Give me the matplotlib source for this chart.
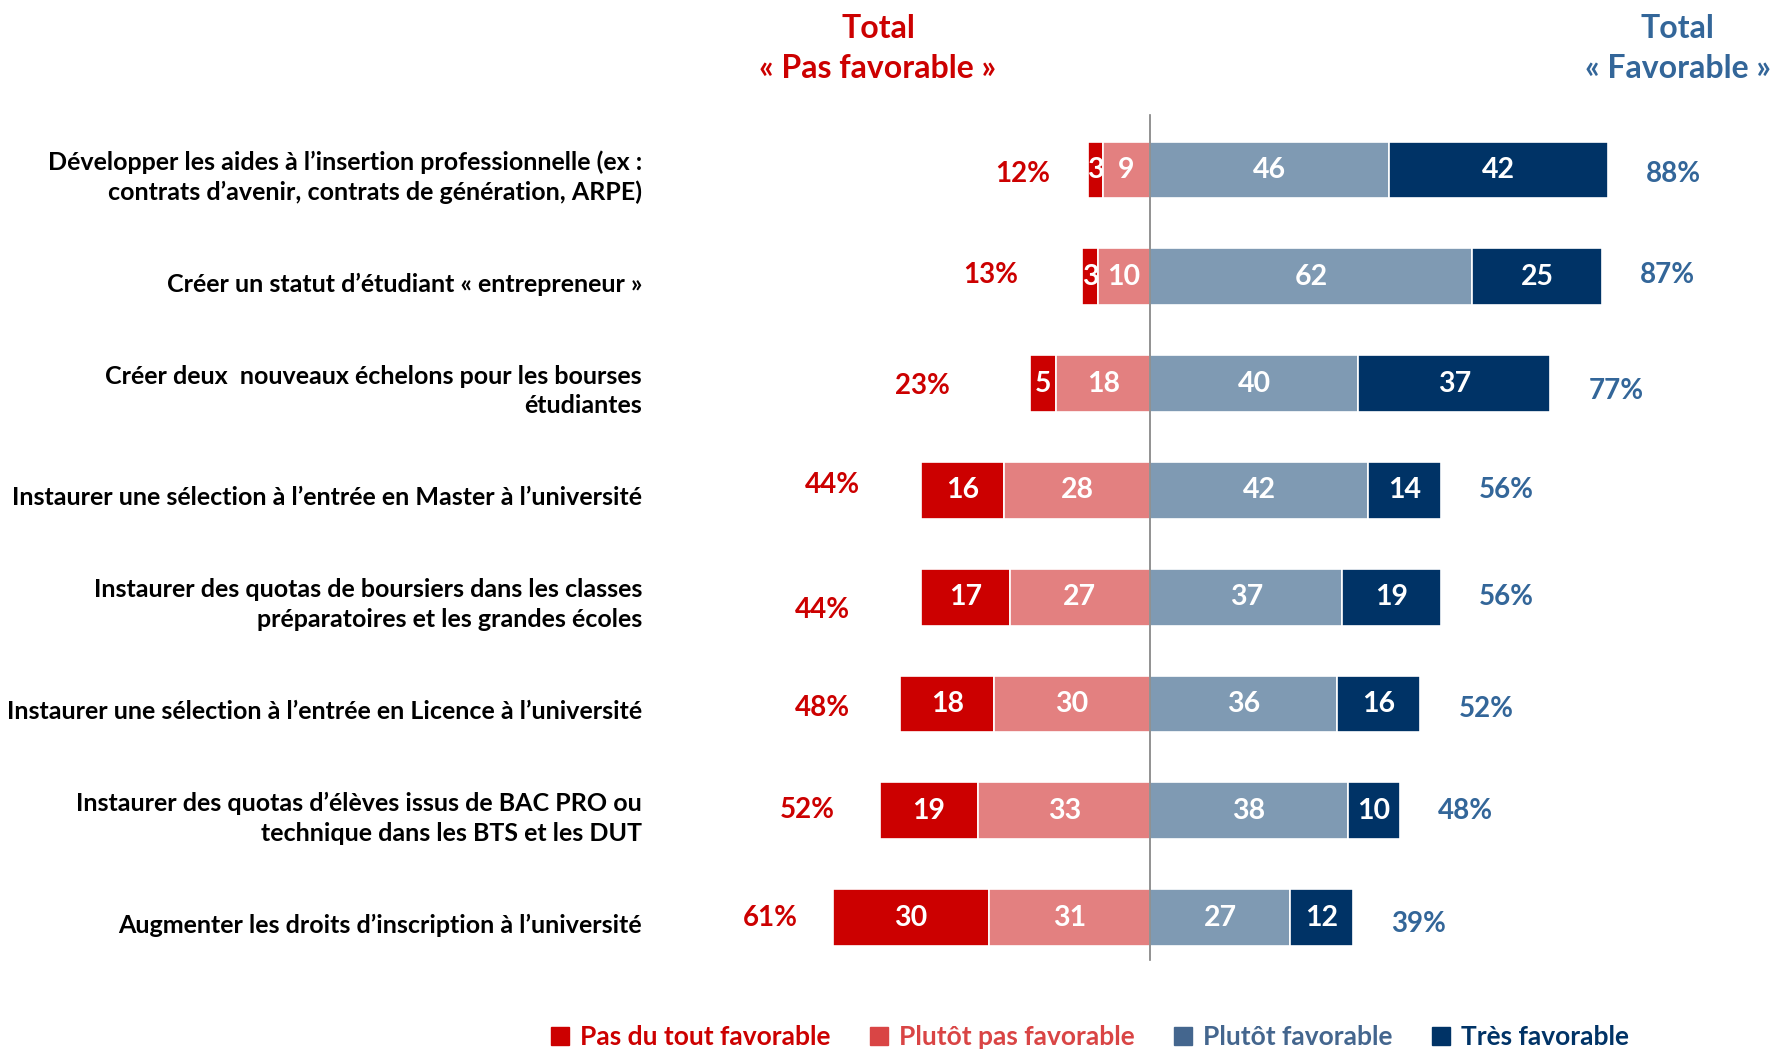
import matplotlib.pyplot as plt
from matplotlib.lines import Line2D

plt.rcParams['font.family'] = ['Lato', 'DejaVu Sans']
plt.rcParams['font.weight'] = 'bold'

# ==== data
items = ["Développer les aides à l’insertion professionnelle (ex :\ncontrats d’avenir, contrats de génération, ARPE)",
         "Créer un statut d’étudiant « entrepreneur »",
         "Créer deux  nouveaux échelons pour les bourses\nétudiantes",
         "Instaurer une sélection à l’entrée en Master à l’université",
         "Instaurer des quotas de boursiers dans les classes\npréparatoires et les grandes écoles",
         "Instaurer une sélection à l’entrée en Licence à l’université",
         "Instaurer des quotas d’élèves issus de BAC PRO ou\ntechnique dans les BTS et les DUT",
         "Augmenter les droits d’inscription à l’université"]
pas_du_tout = [3, 3, 5, 16, 17, 18, 19, 30]
plutot_pas = [9, 10, 18, 28, 27, 30, 33, 31]
plutot_fav = [46, 62, 40, 42, 37, 36, 38, 27]
tres_fav = [42, 25, 37, 14, 19, 16, 10, 12]
total_pas = [12, 13, 23, 44, 44, 48, 52, 61]
total_fav = [88, 87, 77, 56, 56, 52, 48, 39]
series_names = ["Pas du tout favorable", "Plutôt pas favorable", "Plutôt favorable", "Très favorable"]

# label placement tweaks (copied by eye from the original slide)
left_dx = [12.5, 17.7, 20.8, 17.0, 19.0, 15.0, 14.0, 12.0]
left_dy = [0.04, -0.02, 0.02, -0.05, 0.12, 0.04, -0.01, 0.0]
right_dy = [0.04, -0.02, 0.07, 0.0, 0.0, 0.05, 0.0, 0.06]

RED = '#CC0000'
PINK = '#E38080'
GREYBLUE = '#7F9AB3'
NAVY = '#003366'
HEAD_BLUE = '#336699'

fig = plt.figure(figsize=(17.75, 10.5), dpi=100)
ax = fig.add_axes([0, 0, 1, 1])
# 1 unit = 5.2 px, zero line at x=1150 px, rows every 106.8 px starting at 170 px
ax.set_xlim(-1150 / 5.2, (1775 - 1150) / 5.2)
ax.set_ylim((1050 - 170) / 106.8, -170 / 106.8)
ax.axis('off')

ys = list(range(len(items)))
h = 0.53
neg1 = [-(a + b) for a, b in zip(pas_du_tout, plutot_pas)]
neg2 = [-b for b in plutot_pas]
ax.barh(ys, pas_du_tout, left=neg1, height=h, color=RED, edgecolor='white', lw=1.2)
ax.barh(ys, plutot_pas, left=neg2, height=h, color=PINK, edgecolor='white', lw=1.2)
ax.barh(ys, plutot_fav, left=0, height=h, color=GREYBLUE, edgecolor='white', lw=1.2)
ax.barh(ys, tres_fav, left=plutot_fav, height=h, color=NAVY, edgecolor='white', lw=1.2)

for i in ys:
    ax.text(neg1[i] + pas_du_tout[i] / 2, i, str(pas_du_tout[i]), color='white', fontsize=20.5, ha='center', va='center')
    ax.text(neg2[i] + plutot_pas[i] / 2, i, str(plutot_pas[i]), color='white', fontsize=20.5, ha='center', va='center')
    ax.text(plutot_fav[i] / 2, i, str(plutot_fav[i]), color='white', fontsize=20.5, ha='center', va='center')
    ax.text(plutot_fav[i] + tres_fav[i] / 2, i, str(tres_fav[i]), color='white', fontsize=20.5, ha='center', va='center')
    ax.text(neg1[i] - left_dx[i], i + left_dy[i], f"{total_pas[i]}%", color=RED, fontsize=20, ha='center', va='center')
    ax.text(plutot_fav[i] + tres_fav[i] + 12.6, i + right_dy[i], f"{total_fav[i]}%", color=HEAD_BLUE, fontsize=20, ha='center', va='center')
    ax.text(-97.7, i + 0.07, items[i], color='black', fontsize=18, ha='right', va='center', linespacing=1.35)

ax.plot([0, 0], [-0.515, 7.40], color='#7F7F7F', lw=1.2)

ax.text(-52.3, -1.14, "Total\n« Pas favorable »", color=RED, fontsize=23, ha='center', va='center', linespacing=1.45)
ax.text(101.5, -1.14, "Total\n« Favorable »", color=HEAD_BLUE, fontsize=23, ha='center', va='center', linespacing=1.45)

handles = [Line2D([], [], marker='s', ls='', ms=13, color=c) for c in [RED, '#D94545', '#44668E', NAVY]]
fig.legend(handles, series_names, loc='lower center', bbox_to_anchor=(0.614, -0.022), ncol=4,
           frameon=False, fontsize=19, handlelength=0.7, handletextpad=0.4, columnspacing=1.5,
           labelcolor=[RED, '#D94545', '#44668E', NAVY])

fig.savefig('out.png', dpi=100)
